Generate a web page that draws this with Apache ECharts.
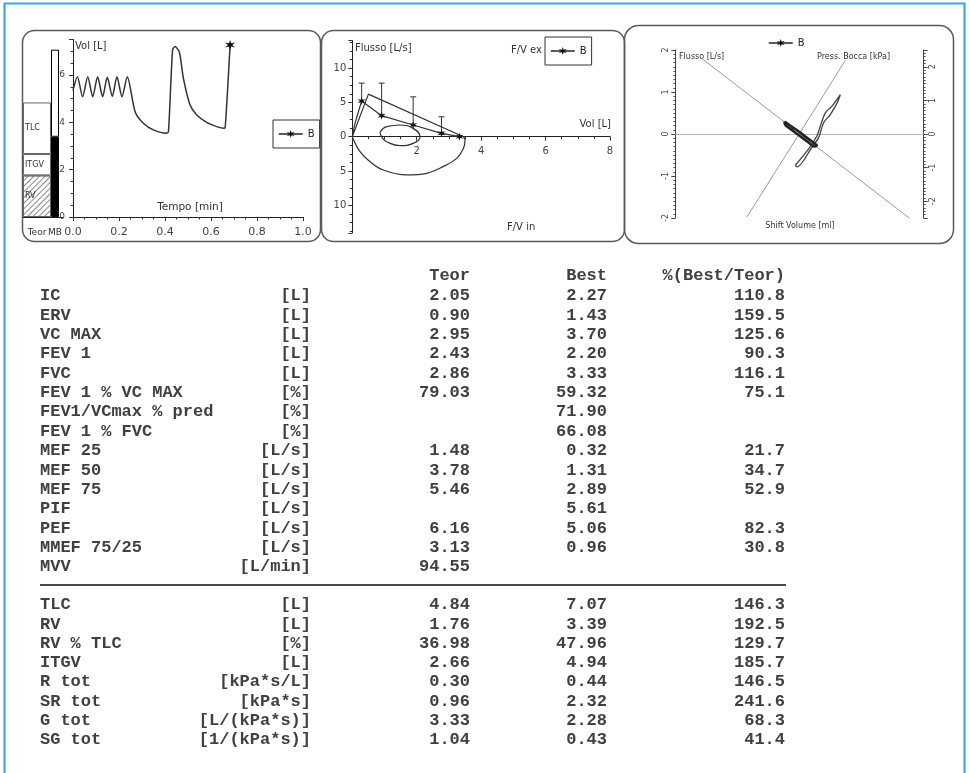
<!DOCTYPE html>
<html><head><meta charset="utf-8">
<script src="https://cdn.jsdelivr.net/npm/echarts@6/dist/echarts.min.js"></script>
<style>html,body{margin:0;padding:0;background:#fff}#c{width:970px;height:773px}</style>
</head><body><div id="c"></div>
<script>
// ---------------- DATA ----------------
// Panel 1: volume vs time
const volTimeT = [0.000, 0.019, 0.042, 0.064, 0.086, 0.107, 0.129, 0.149, 0.171, 0.191, 0.213, 0.236, 0.270, 0.306, 0.349, 0.407, 0.415, 0.433, 0.443, 0.462, 0.480, 0.509, 0.538, 0.581, 0.625, 0.657, 0.662, 0.683];
const volTimeV = [5.35, 5.93, 5.08, 5.93, 5.08, 5.93, 5.08, 5.90, 5.10, 5.93, 5.08, 5.93, 4.45, 3.96, 3.68, 3.54, 3.60, 7.06, 7.20, 6.98, 5.86, 4.73, 4.31, 4.00, 3.82, 3.75, 3.80, 7.27];
const volBarCats = ['Teor', 'MB'];
const teorBarLabels = ['RV', 'ITGV', 'TLC'];
// Panel 2: flow-volume
const fvPredV = [0, 0.50, 3.45];
const fvPredF = [0, 6.2, 0];
const fvExpV = [0, 0.08, 0.29, 0.91, 1.89, 2.77, 3.33];
const fvExpF = [0, 1.9, 5.2, 3.06, 1.70, 0.49, 0];
const fvExpMarked = [false, false, true, true, true, true, true];
const fvInspV = [0, 0.24, 0.55, 0.96, 1.69, 2.31, 2.82, 3.24, 3.45, 3.50, 3.45];
const fvInspF = [0, -2.18, -3.64, -4.85, -5.57, -5.33, -4.36, -3.15, -1.70, -0.49, 0];
const tidalV = [0.86, 1.07, 1.48, 1.89, 2.10, 1.89, 1.48, 1.07, 0.91, 0.86];
const tidalF = [0.64, 1.46, 1.70, 1.21, 0, -0.97, -1.31, -0.73, 0, 0.64];
const errV = [0.29, 0.91, 1.89, 2.77];
const errLow = [5.2, 3.06, 1.70, 0.49];
const errHigh = [7.8, 7.8, 5.8, 2.9];
// Panel 3: body box
const ref1X = [-78.3, 89.2];
const ref1Y = [1.79, -2.02];
const ref2X = [-42.3, 36.9];
const ref2Y = [-2.47, 2.19];
const loopRX = [-12, -6, 0, 6, 12, 14, 12, 6, 0, -6, -12, -12];
const loopRY = [0.30, 0.17, 0.05, -0.09, -0.22, -0.27, -0.30, -0.17, -0.04, 0.09, 0.25, 0.30];
const loopPX = [-3.4, 7.4, 14.1, 16.8, 20.8, 26.2, 32.9, 30.2, 24.8, 19.5, 15.5, 10.1, -2.0, -3.4];
const loopPY = [-0.93, -0.44, -0.05, 0.24, 0.63, 0.83, 1.17, 0.92, 0.58, 0.34, -0.10, -0.39, -0.98, -0.93];
// Table
const colHeaders = ['Teor', 'Best', '%(Best/Teor)'];
const params1 = ['IC', 'ERV', 'VC MAX', 'FEV 1', 'FVC', 'FEV 1 % VC MAX', 'FEV1/VCmax % pred', 'FEV 1 % FVC', 'MEF 25', 'MEF 50', 'MEF 75', 'PIF', 'PEF', 'MMEF 75/25', 'MVV'];
const units1 = ['[L]', '[L]', '[L]', '[L]', '[L]', '[%]', '[%]', '[%]', '[L/s]', '[L/s]', '[L/s]', '[L/s]', '[L/s]', '[L/s]', '[L/min]'];
const teor1 = [2.05, 0.90, 2.95, 2.43, 2.86, 79.03, null, null, 1.48, 3.78, 5.46, null, 6.16, 3.13, 94.55];
const best1 = [2.27, 1.43, 3.70, 2.20, 3.33, 59.32, 71.90, 66.08, 0.32, 1.31, 2.89, 5.61, 5.06, 0.96, null];
const pct1 = [110.8, 159.5, 125.6, 90.3, 116.1, 75.1, null, null, 21.7, 34.7, 52.9, null, 82.3, 30.8, null];
const params2 = ['TLC', 'RV', 'RV % TLC', 'ITGV', 'R tot', 'SR tot', 'G tot', 'SG tot'];
const units2 = ['[L]', '[L]', '[%]', '[L]', '[kPa*s/L]', '[kPa*s]', '[L/(kPa*s)]', '[1/(kPa*s)]'];
const teor2 = [4.84, 1.76, 36.98, 2.66, 0.30, 0.96, 3.33, 1.04];
const best2 = [7.07, 3.39, 47.96, 4.94, 0.44, 2.32, 2.28, 0.43];
const pct2 = [146.3, 192.5, 129.7, 185.7, 146.5, 241.6, 68.3, 41.4];

// ---------------- RENDER ----------------
function starPath(n) {
  let d = '';
  for (let i = 0; i < 2 * n; i++) {
    const r = i % 2 ? 0.38 : 1;
    const a = Math.PI * i / n - Math.PI / 2;
    d += (i ? 'L' : 'M') + (50 + 50 * r * Math.cos(a)).toFixed(1) + ',' + (50 + 50 * r * Math.sin(a)).toFixed(1);
  }
  return 'path://' + d + 'Z';
}
const STAR = starPath(6);
const zip = (a, b) => a.map((v, i) => [v, b[i]]);

const chart = echarts.init(document.getElementById('c'), null, {renderer: 'canvas'});
const TXT = '#333';
const SANS = '"DejaVu Sans", Verdana, sans-serif';
const MONO = 'bold 17px "Liberation Mono", "Courier New", monospace';
const g = [];

// outer frame and panels
g.push({type: 'rect', silent: true, shape: {x: 4.5, y: 3.5, width: 960, height: 820}, style: {fill: 'none', stroke: '#3aa8de', lineWidth: 2.2}});
[[22.5, 30.5, 298, 211, 12], [321.5, 30.5, 303, 211, 12], [624.5, 25.5, 329, 218, 14]].forEach(p => {
  g.push({type: 'rect', silent: true, shape: {x: p[0], y: p[1], width: p[2], height: p[3], r: p[4]}, style: {fill: 'none', stroke: '#5a5a5a', lineWidth: 1.5}});
});
function chartText(x, y, text, align, size) {
  g.push({type: 'text', silent: true, x: x, y: y, style: {text: text, font: (size || 10) + 'px ' + SANS, fill: TXT, align: align || 'left', verticalAlign: 'middle'}});
}
chartText(75, 46, 'Vol [L]');
chartText(190, 207, 'Tempo [min]', 'center', 10.5);
chartText(355, 48, 'Flusso [L/s]');
chartText(542, 50, 'F/V ex', 'right');
chartText(611, 124, 'Vol [L]', 'right');
chartText(507, 227, 'F/V in');
chartText(679, 57, 'Flusso [L/s]', 'left', 8);
chartText(817, 57, 'Press. Bocca [kPa]', 'left', 8);
chartText(800, 226, 'Shift Volume [ml]', 'center', 8);

// table
function tText(x, y, text, align) {
  g.push({type: 'text', silent: true, x: x, y: y, style: {text: text, font: MONO, fill: '#404040', align: align, verticalAlign: 'middle'}});
}
const cx = {param: 40, unit: 311, teor: 470, best: 607, pct: 785};
tText(cx.teor, 276, colHeaders[0], 'right');
tText(cx.best, 276, colHeaders[1], 'right');
tText(cx.pct, 276, colHeaders[2], 'right');
function rows(params, units, teor, best, pct, y0, step) {
  params.forEach((p, i) => {
    const y = y0 + i * step;
    tText(cx.param, y, p, 'left');
    tText(cx.unit, y, units[i], 'right');
    if (teor[i] != null) tText(cx.teor, y, teor[i].toFixed(2), 'right');
    if (best[i] != null) tText(cx.best, y, best[i].toFixed(2), 'right');
    if (pct[i] != null) tText(cx.pct, y, pct[i].toFixed(1), 'right');
  });
}
rows(params1, units1, teor1, best1, pct1, 296, 19.36);
g.push({type: 'line', silent: true, shape: {x1: 40, y1: 585, x2: 786, y2: 585}, style: {stroke: '#4a4a4a', lineWidth: 2}});
rows(params2, units2, teor2, best2, pct2, 605, 19.3);

const axLine = {lineStyle: {color: '#222', width: 1}};
const tickLbl = {fontSize: 10, color: '#444', fontFamily: SANS};
const minor = {show: true, splitNumber: 4, length: 2.5, lineStyle: {color: '#333'}};
const legendBase = {data: [{name: 'B', lineStyle: {color: '#222', width: 1.5}, itemStyle: {color: '#111'}}], selectedMode: false, itemWidth: 24, itemHeight: 10, itemGap: 4, textStyle: {fontSize: 10, color: '#222', fontFamily: SANS}};

const teorBarVals = [teor2[1], teor2[3] - teor2[1], teor2[0] - teor2[3]];
const mbBarVals = [best2[1], best2[0] - best2[1]];

const series = [];
teorBarVals.forEach((v, i) => {
  series.push({type: 'bar', name: teorBarLabels[i], xAxisIndex: 0, yAxisIndex: 0, stack: 'teor', barWidth: 28, data: [v],
    itemStyle: Object.assign({color: '#fff', borderColor: '#666', borderWidth: 1}, i === 0 ? {decal: {symbol: 'rect', symbolSize: 1, dashArrayX: [1, 0], dashArrayY: [1, 3], rotation: -Math.PI / 4, color: 'rgba(0,0,0,0.45)'}} : {}),
    label: {show: true, position: 'insideLeft', formatter: teorBarLabels[i], fontSize: 8, color: '#333', fontFamily: SANS, distance: 2}});
});
mbBarVals.forEach((v, i) => {
  series.push({type: 'bar', name: 'MB' + i, xAxisIndex: 1, yAxisIndex: 1, stack: 'mb', barWidth: 8, data: [v],
    itemStyle: {color: i === 0 ? '#000' : '#fff', borderColor: '#000', borderWidth: 1}});
});
series.push({type: 'line', name: 'B', xAxisIndex: 2, yAxisIndex: 2, symbol: STAR, symbolSize: 10, smooth: 0.25,
  lineStyle: {color: '#333', width: 1.5}, itemStyle: {color: '#111'},
  data: volTimeT.map((t, i) => i === volTimeT.length - 1 ? {value: [t, volTimeV[i]]} : {value: [t, volTimeV[i]], symbol: 'none'})});
series.push({type: 'line', name: 'pred', xAxisIndex: 3, yAxisIndex: 3, symbol: 'none', lineStyle: {color: '#333', width: 1.2}, data: zip(fvPredV, fvPredF)});
series.push({type: 'line', name: 'B', xAxisIndex: 3, yAxisIndex: 3, symbol: STAR, symbolSize: 8, lineStyle: {color: '#333', width: 1.2}, itemStyle: {color: '#111'},
  data: fvExpV.map((v, i) => fvExpMarked[i] ? {value: [v, fvExpF[i]]} : {value: [v, fvExpF[i]], symbol: 'none'})});
series.push({type: 'line', name: 'insp', xAxisIndex: 3, yAxisIndex: 3, symbol: 'none', smooth: 0.4, lineStyle: {color: '#333', width: 1.2}, data: zip(fvInspV, fvInspF)});
series.push({type: 'line', name: 'tidal', xAxisIndex: 3, yAxisIndex: 3, symbol: 'none', smooth: 0.5, lineStyle: {color: '#333', width: 1.2}, data: zip(tidalV, tidalF)});
series.push({type: 'custom', name: 'err', xAxisIndex: 3, yAxisIndex: 3, encode: {x: 0, y: [1, 2]},
  data: errV.map((v, i) => [v, errLow[i], errHigh[i]]),
  renderItem: function (params, api) {
    const p1 = api.coord([api.value(0), api.value(1)]);
    const p2 = api.coord([api.value(0), api.value(2)]);
    return {type: 'group', children: [
      {type: 'line', shape: {x1: p1[0], y1: p1[1], x2: p2[0], y2: p2[1]}, style: {stroke: '#333', lineWidth: 1}},
      {type: 'line', shape: {x1: p2[0] - 3, y1: p2[1], x2: p2[0] + 3, y2: p2[1]}, style: {stroke: '#333', lineWidth: 1}}
    ]};
  }});
series.push({type: 'line', name: 'ref1', xAxisIndex: 4, yAxisIndex: 4, symbol: 'none', lineStyle: {color: '#9a9a9a', width: 1}, data: zip(ref1X, ref1Y)});
series.push({type: 'line', name: 'ref2', xAxisIndex: 4, yAxisIndex: 5, symbol: 'none', lineStyle: {color: '#9a9a9a', width: 1}, data: zip(ref2X, ref2Y)});
series.push({type: 'line', name: 'P', xAxisIndex: 4, yAxisIndex: 5, symbol: 'none', smooth: 0.3, lineStyle: {color: '#444', width: 1.3}, data: zip(loopPX, loopPY)});
series.push({type: 'line', name: 'B', xAxisIndex: 4, yAxisIndex: 4, symbol: STAR, showSymbol: false, smooth: 0.3, lineStyle: {color: '#222', width: 2.5}, itemStyle: {color: '#111'}, data: zip(loopRX, loopRY)});

const hiddenY = {type: 'value', min: 0, max: 7.5, show: false};
const FV_GRID_H = 192.4;
const option = {
  animation: false,
  backgroundColor: '#fff',
  textStyle: {fontFamily: SANS},
  graphic: {elements: g},
  legend: [
    Object.assign({}, legendBase, {left: 273, top: 120, padding: [9, 5], borderColor: '#333', borderWidth: 1}),
    Object.assign({}, legendBase, {left: 545, top: 37, padding: [9, 5], borderColor: '#333', borderWidth: 1}),
    Object.assign({}, legendBase, {left: 766, top: 36, padding: [2, 2]})
  ],
  grid: [
    {left: 23, top: 39.5, width: 28, height: 177.5, outerBoundsMode: 'none'},
    {left: 47, top: 39.5, width: 16, height: 177.5, outerBoundsMode: 'none'},
    {left: 73, top: 39.5, width: 230, height: 177.5, outerBoundsMode: 'none'},
    {left: 352.3, top: 40.5, width: 257.7, height: FV_GRID_H, outerBoundsMode: 'none'},
    {left: 675.3, top: 50, width: 248.4, height: 168, outerBoundsMode: 'none'}
  ],
  xAxis: [
    {gridIndex: 0, type: 'category', data: [volBarCats[0]], axisTick: {show: false}, axisLine: axLine, axisLabel: {fontSize: 9, color: '#333', margin: 11, interval: 0}},
    {gridIndex: 1, type: 'category', data: [volBarCats[1]], axisTick: {show: false}, axisLine: axLine, axisLabel: {fontSize: 9, color: '#333', margin: 11, interval: 0}},
    {gridIndex: 2, type: 'value', min: 0, max: 1, interval: 0.2, splitLine: {show: false}, axisLine: axLine, axisTick: {length: 4, lineStyle: {color: '#333'}}, minorTick: minor,
      axisLabel: Object.assign({}, tickLbl, {fontSize: 11, margin: 10, formatter: v => v.toFixed(1)})},
    {gridIndex: 3, type: 'value', min: 0, max: 8, interval: 2, offset: -FV_GRID_H / 2, splitLine: {show: false}, axisLine: Object.assign({onZero: false}, axLine), axisTick: {length: 4, lineStyle: {color: '#333'}}, minorTick: minor,
      axisLabel: Object.assign({}, tickLbl, {showMinLabel: false, margin: 10})},
    {gridIndex: 4, type: 'value', min: -100, max: 100, splitLine: {show: false}, axisLine: {onZero: true, lineStyle: {color: '#b5b5b5', width: 1}}, axisTick: {show: false}, axisLabel: {show: false}}
  ],
  yAxis: [
    Object.assign({gridIndex: 0}, hiddenY),
    Object.assign({gridIndex: 1}, hiddenY),
    {gridIndex: 2, type: 'value', min: 0, max: 7.5, interval: 2, splitLine: {show: false}, axisLine: axLine, axisTick: {length: 4, lineStyle: {color: '#333'}}, minorTick: minor,
      axisLabel: Object.assign({}, tickLbl, {fontSize: 9, showMaxLabel: false, margin: 8})},
    {gridIndex: 3, type: 'value', min: -14, max: 14, splitNumber: 5, splitLine: {show: false}, axisLine: axLine, axisTick: {length: 4, lineStyle: {color: '#333'}}, minorTick: minor,
      axisLabel: Object.assign({}, tickLbl, {margin: 6, formatter: v => (Math.abs(v) % 5 === 0 ? String(Math.abs(v)) : '')})},
    {gridIndex: 4, type: 'value', position: 'left', min: -2, max: 2, interval: 1, splitLine: {show: false}, axisLine: {onZero: false, lineStyle: {color: '#444'}}, axisTick: {length: 4, lineStyle: {color: '#444'}}, minorTick: {show: true, splitNumber: 10, length: 2, lineStyle: {color: '#555'}},
      axisLabel: {fontSize: 8, color: '#444', rotate: 90, margin: 5}},
    {gridIndex: 4, type: 'value', position: 'right', min: -2.5, max: 2.5, splitNumber: 5, splitLine: {show: false}, axisLine: {onZero: false, lineStyle: {color: '#444'}}, axisTick: {length: 4, lineStyle: {color: '#444'}}, minorTick: {show: true, splitNumber: 10, length: 2, lineStyle: {color: '#555'}},
      axisLabel: {fontSize: 8, color: '#444', rotate: 90, margin: 5, formatter: v => (Number.isInteger(v) ? String(v) : '')}}
  ],
  series: series
};
chart.setOption(option);
</script>
</body></html>
